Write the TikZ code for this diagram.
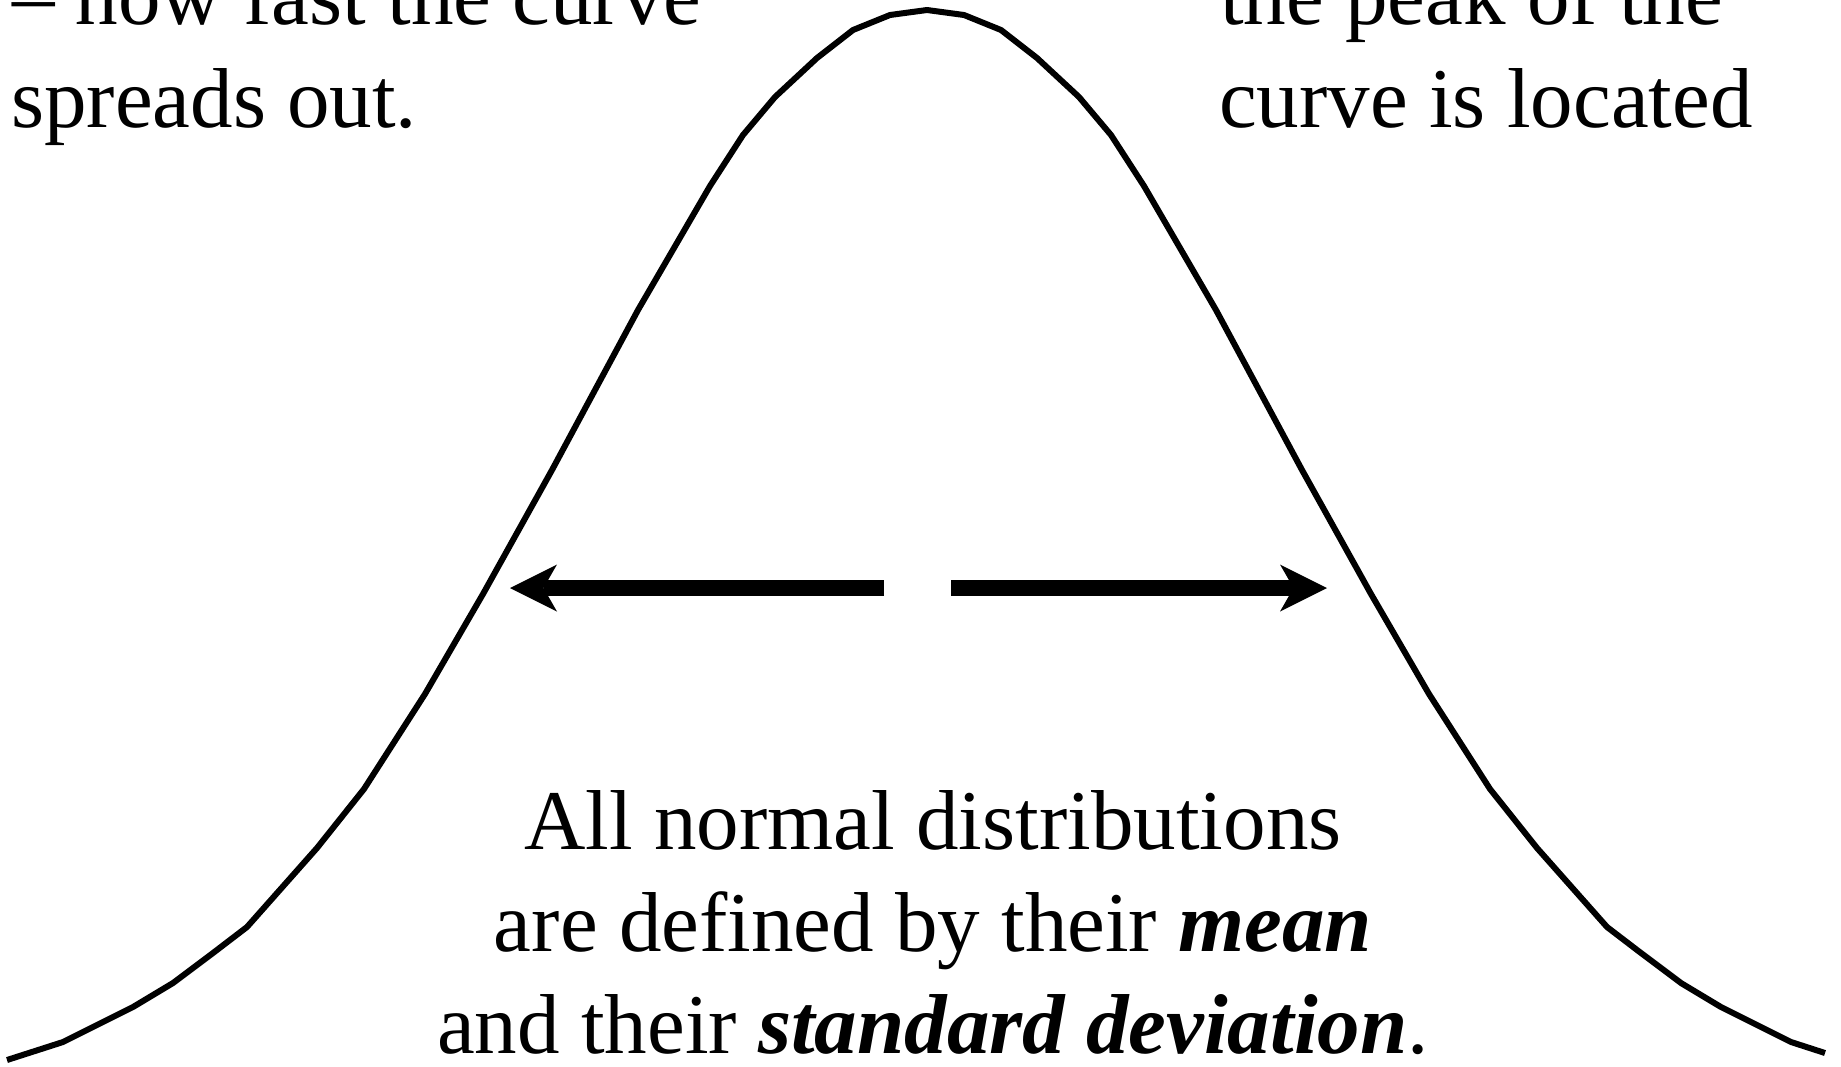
\documentclass[tikz,border=0pt]{standalone}
\usepackage{fontspec}
\setmainfont{Liberation Serif}
\usetikzlibrary{arrows.meta}
\begin{document}
\begin{tikzpicture}[x=1pt,y=-1pt,
  curve/.style={line width=6pt, line join=round, line cap=butt},
  spread/.style={line width=16pt, line cap=butt,
    -{Stealth[length=47pt,width=47pt,inset=13.5pt,line width=0pt]}},
  lbl/.style={inner sep=0pt, font=\fontsize{85}{102}\selectfont}]
\useasboundingbox (0,0) rectangle (1841,1066);
\clip (0,0) rectangle (1841,1066);
\fill[white] (0,0) rectangle (1841,1066);
% normal curve
\draw[curve] (7,1060) -- (63,1042) -- (133,1007) -- (173,983) -- (213,953) -- (247,927)
  -- (317,848) -- (364,789) -- (425,694) -- (483,594) -- (552,470) -- (638,310)
  -- (710,186) -- (743,135) -- (775,97) -- (817,58) -- (853,30) -- (890,15) -- (927,10)
  -- (964,15) -- (1001,30) -- (1037,58) -- (1079,97) -- (1111,135) -- (1144,186)
  -- (1216,310) -- (1302,470) -- (1371,594) -- (1429,694) -- (1490,789) -- (1537,848)
  -- (1607,927) -- (1641,953) -- (1681,983) -- (1721,1007) -- (1791,1042) -- (1825,1053);
% arrows
\coordinate (lgap) at (884,588);
\coordinate (ltip) at (510,588);
\coordinate (rgap) at (951,588);
\coordinate (rtip) at (1327,588);
\draw[spread] (lgap) -- (ltip);
\draw[spread] (rgap) -- (rtip);
% texts
\node[lbl, anchor=base west] (tl1) at (12,24) {– how fast the curve};
\node[lbl, anchor=base west] (tl2) at (11,127) {spreads out.};
\node[lbl, anchor=base west] (tr1) at (1220,24) {the peak of the};
\node[lbl, anchor=base west] (tr2) at (1219,127) {curve is located};
\node[lbl, anchor=base] (b1) at (933,849) {All normal distributions};
\node[lbl, anchor=base] (b2) at (933,951) {are defined by their \textbf{\textit{mean}}};
\node[lbl, anchor=base] (b3) at (933,1053) {and their \textbf{\textit{standard deviation}}.};
\end{tikzpicture}
\end{document}
